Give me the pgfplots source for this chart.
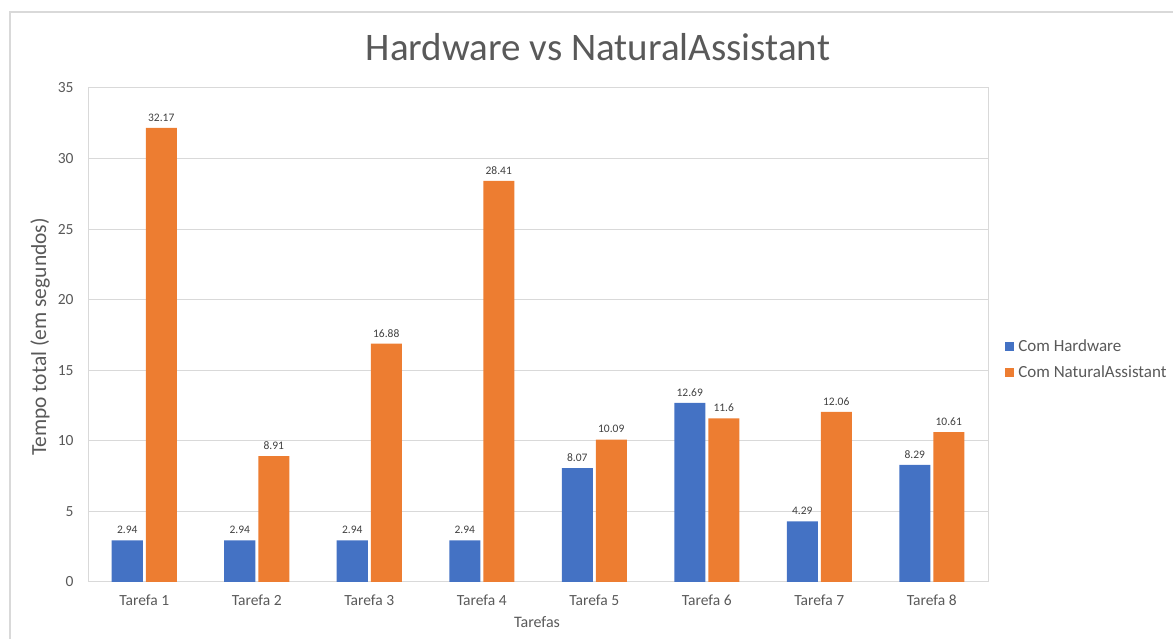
\documentclass[border=0pt]{standalone}
\usepackage{pgfplots}
\pgfplotsset{compat=1.18}
\usepackage{fontspec}
\setmainfont{Carlito}
\definecolor{cblue}{HTML}{4472C4}
\definecolor{corange}{HTML}{ED7D31}
\definecolor{txt}{HTML}{595959}
\definecolor{lbl}{HTML}{404040}
\definecolor{grd}{HTML}{D9D9D9}
\begin{document}
\begin{tikzpicture}[x=1bp,y=1bp]
\useasboundingbox (0,0) rectangle (1173,639);
\draw[grd, line width=1.5bp] (10,0) -- (10,627) -- (1173,627);
\begin{axis}[
  at={(88bp,57bp)}, anchor=south west,
  scale only axis, width=900bp, height=494bp,
  xmin=0.5, xmax=8.5, ymin=0, ymax=35,
  ybar=3bp, bar width=0.2756,
  ytick={0,5,...,35},
  xtick={1,...,8},
  xticklabels={Tarefa 1,Tarefa 2,Tarefa 3,Tarefa 4,Tarefa 5,Tarefa 6,Tarefa 7,Tarefa 8},
  major tick length=0pt,
  /pgf/number format/assume math mode=true,
  tick label style={font=\fontsize{15.5bp}{18bp}\selectfont, text=txt},
  xticklabel style={yshift=-9bp},
  yticklabel style={xshift=-11bp},
  axis line style={grd, line width=1bp},
  ymajorgrids, grid style={grd, line width=1bp},
  nodes near coords,
  every node near coord/.append style={font=\fontsize{11.5bp}{13bp}\selectfont, text=lbl, yshift=3bp},
  legend style={at={(rel axis cs:1.019,0.45)}, anchor=west, draw=none, fill=none,
    font=\fontsize{17bp}{20bp}\selectfont, text=txt, row sep=9bp,
    legend cell align=left, inner sep=0pt,
    nodes={inner xsep=4bp}},
  legend image code/.code={\fill[#1] (0bp,-4.5bp) rectangle (9bp,4.5bp);},
]
\addplot[fill=cblue, draw=none] coordinates {
 (1,2.94) (2,2.94) (3,2.94) (4,2.94) (5,8.07) (6,12.69) (7,4.29) (8,8.29)};
\addlegendentry{Com Hardware}
\addplot[fill=corange, draw=none] coordinates {
 (1,32.17) (2,8.91) (3,16.88) (4,28.41) (5,10.09) (6,11.6) (7,12.06) (8,10.61)};
\addlegendentry{Com NaturalAssistant}
\end{axis}
\node[text=txt, font=\fontsize{39bp}{45bp}\selectfont] at (598,592) {Hardware vs NaturalAssistant};
\node[text=txt, font=\fontsize{21.5bp}{25bp}\selectfont, rotate=90] at (40,302) {Tempo total (em segundos)};
\node[text=txt, font=\fontsize{16bp}{19bp}\selectfont] at (537,17) {Tarefas};
\end{tikzpicture}
\end{document}
